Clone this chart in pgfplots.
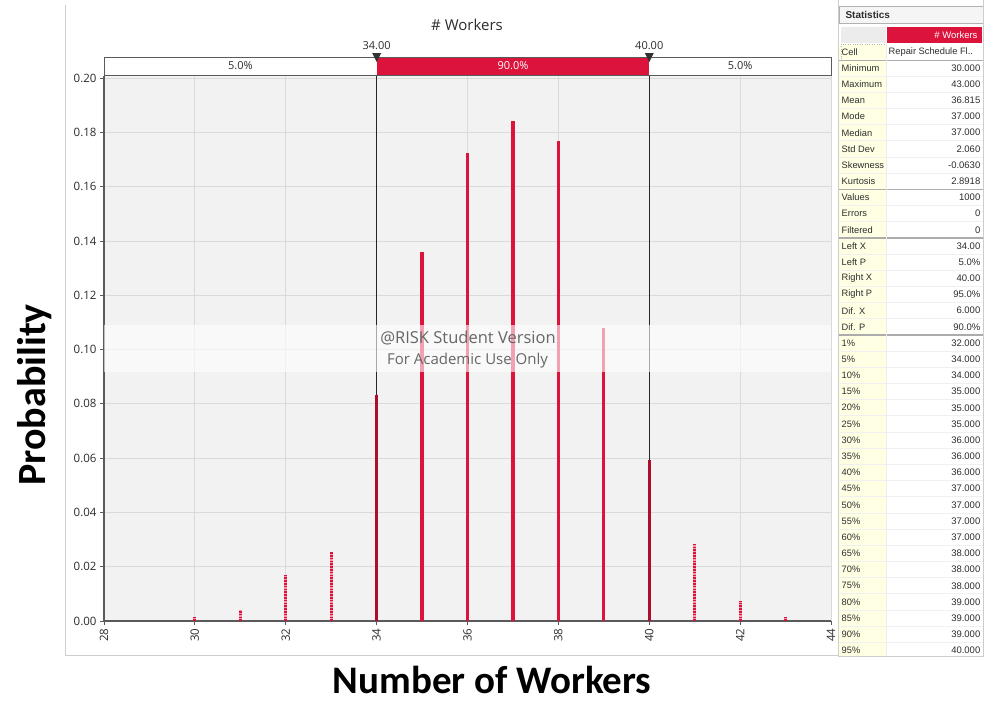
\documentclass[border=0pt]{standalone}
\usepackage{pgfplots}
\pgfplotsset{compat=1.18}
\usepackage{fontspec}
\setmainfont{Open Sans}
\newfontfamily\carlito{Carlito}
\newfontfamily\tabfont{Liberation Sans}
\definecolor{crim}{RGB}{220,20,60}
\definecolor{crimdark}{RGB}{170,15,45}
\definecolor{crimlight}{RGB}{245,150,170}
\definecolor{plotbg}{RGB}{242,242,242}
\definecolor{gridc}{RGB}{218,218,218}
\definecolor{axc}{RGB}{90,90,90}
\definecolor{txt}{RGB}{45,45,45}
\definecolor{paleyel}{RGB}{255,255,228}
\definecolor{framec}{RGB}{205,205,205}
\begin{document}
\begin{tikzpicture}[x=1bp,y=-1bp]
\useasboundingbox (0,0) rectangle (984,703);
\fill[white] (0,0) rectangle (984,703);
\draw[framec, line width=1bp] (65,5) -- (65,655) -- (838,655);
\begin{axis}[
  at={(104bp,-621bp)}, anchor=south west,
  scale only axis, width=727bp, height=545bp,
  xmin=28, xmax=44, ymin=0, ymax=0.2008,
  xtick={28,30,32,34,36,38,40,42,44},
  ytick={0,0.02,0.04,0.06,0.08,0.10,0.12,0.14,0.16,0.18,0.20},
  axis x line*=bottom, axis y line*=left,
  axis line style={axc, line width=1.3bp},
  axis background/.style={fill=plotbg},
  grid=major, major grid style={gridc, line width=0.8bp},
  tick align=outside, major tick length=4bp, tick style={axc, line width=1bp},
  /pgf/number format/assume math mode=true,
  yticklabel style={/pgf/number format/fixed, /pgf/number format/fixed zerofill, /pgf/number format/precision=2, font=\fontsize{11.5bp}{13bp}\selectfont, text=txt},
  xticklabel style={rotate=90, anchor=east, font=\fontsize{11.5bp}{13bp}\selectfont, text=txt},
  clip=false,
]
% delimiter lines (drawn first, bars cover them)
\draw[black!85, line width=0.8bp] (axis cs:34,0) -- ([yshift=19bp]axis cs:34,0.2008);
\draw[black!85, line width=0.8bp] (axis cs:40,0) -- ([yshift=19bp]axis cs:40,0.2008);
% tails (outside 5%-95%)
\addplot[ycomb, no marks, crimlight, line width=3.2bp] coordinates {
 (30,0.0015) (31,0.0041) (32,0.0170) (33,0.0255) (41,0.0285) (42,0.0074) (43,0.0015)};
\addplot[ycomb, no marks, crim, line width=3.2bp, dash pattern=on 1.6bp off 1.2bp] coordinates {
 (30,0.0015) (31,0.0041) (32,0.0170) (33,0.0255) (41,0.0285) (42,0.0074) (43,0.0015)};
% central 90%
\addplot[ycomb, no marks, crim, line width=3.2bp] coordinates {
 (35,0.1358) (36,0.1725) (37,0.1844) (38,0.1767) (39,0.1081)};
% bars on the delimiters
\addplot[ycomb, no marks, crimdark, line width=3.2bp] coordinates {
 (34,0.0833) (40,0.0593)};
% watermark
\fill[white, opacity=0.6] (axis cs:28,0.0917) rectangle (axis cs:44,0.1092);
\node[text=black!60, font=\fontsize{16.5bp}{18bp}\selectfont] at (axis cs:36.01,0.1042) {@RISK Student Version};
\node[text=black!60, font=\fontsize{15bp}{17bp}\selectfont] at (axis cs:36.0,0.0958) {For Academic Use Only};
% delimiter band
\draw[axc, line width=1bp, fill=white] ([yshift=1bp]axis cs:28,0.2008) rectangle ([yshift=19bp]axis cs:44,0.2008);
\fill[crim] ([yshift=1bp]axis cs:34,0.2008) rectangle ([yshift=19bp]axis cs:40,0.2008);
\draw[axc, line width=1bp] ([yshift=1bp]axis cs:28,0.2008) rectangle ([yshift=19bp]axis cs:44,0.2008);
\fill[black!80] ([xshift=-4.5bp,yshift=23bp]axis cs:34,0.2008) -- ([xshift=4.5bp,yshift=23bp]axis cs:34,0.2008) -- ([yshift=14bp]axis cs:34,0.2008) -- cycle;
\fill[black!80] ([xshift=-4.5bp,yshift=23bp]axis cs:40,0.2008) -- ([xshift=4.5bp,yshift=23bp]axis cs:40,0.2008) -- ([yshift=14bp]axis cs:40,0.2008) -- cycle;
\node[text=txt, font=\fontsize{11bp}{13bp}\selectfont] at ([yshift=30bp]axis cs:34,0.2008) {34.00};
\node[text=txt, font=\fontsize{11bp}{13bp}\selectfont] at ([yshift=30bp]axis cs:40,0.2008) {40.00};
\node[text=txt, font=\fontsize{11bp}{13bp}\selectfont] at ([yshift=10bp]axis cs:31,0.2008) {5.0\%};
\node[text=white, font=\fontsize{11bp}{13bp}\selectfont] at ([yshift=10bp]axis cs:37,0.2008) {90.0\%};
\node[text=txt, font=\fontsize{11bp}{13bp}\selectfont] at ([yshift=10bp]axis cs:42,0.2008) {5.0\%};
\end{axis}
% title and axis titles
\node[text=txt, font=\fontsize{15bp}{17bp}\selectfont] at (467,25) {\# Workers};
\node[rotate=90, font=\carlito\bfseries\fontsize{40bp}{48bp}\selectfont] at (35,395) {Probability};
\node[font=\carlito\bfseries\fontsize{39bp}{46bp}\selectfont, inner sep=0pt] at (492,680) {Number of Workers};
% statistics panel
\begin{scope}
\clip (838,0) rectangle (984,656);
\fill[paleyel] (839,44) rectangle (886,656);
\draw[gray!60, fill=gray!8] (839,6) rectangle (983,23);
\node[anchor=west, text=txt, font=\tabfont\bfseries\fontsize{10bp}{12bp}\selectfont] at (842,14.5) {Statistics};
\fill[gray!15] (841,27) rectangle (886,43);
\fill[crim] (887,27) rectangle (982,43);
\node[anchor=east, text=white, font=\tabfont\fontsize{9.5bp}{12bp}\selectfont] at (981,35) {\# Workers};
\draw[gray!60, dotted] (841,44) rectangle (886,60);
\node[anchor=west, text=txt, font=\tabfont\fontsize{9.3bp}{12bp}\selectfont, inner sep=1.5bp] at (840,52) {Cell};
\node[anchor=west, text=txt, font=\tabfont\fontsize{9.3bp}{12bp}\selectfont, inner sep=1.5bp] at (887,52) {Repair Schedule Fl..};
\foreach \lab/\val [count=\k from 0] in {Minimum/30.000, Maximum/43.000, Mean/36.815, Mode/37.000, Median/37.000, Std Dev/2.060, Skewness/-0.0630, Kurtosis/2.8918, Values/1000, Errors/0, Filtered/0, Left X/34.00, Left P/5.0\%, Right X/40.00, Right P/95.0\%, Dif. X/6.000, Dif. P/90.0\%, 1\%/32.000, 5\%/34.000, 10\%/34.000, 15\%/35.000, 20\%/35.000, 25\%/35.000, 30\%/36.000, 35\%/36.000, 40\%/36.000, 45\%/37.000, 50\%/37.000, 55\%/37.000, 60\%/37.000, 65\%/38.000, 70\%/38.000, 75\%/38.000, 80\%/39.000, 85\%/39.000, 90\%/39.000, 95\%/40.000}{
  \pgfmathsetmacro\yy{68+16.18*\k}
  \draw[gray!12, line width=0.6bp] (839,\yy+8) -- (983,\yy+8);
  \node[anchor=west, text=txt, font=\tabfont\fontsize{9.3bp}{12bp}\selectfont, inner sep=1.5bp] at (840,\yy) {\lab};
  \node[anchor=east, text=txt, font=\tabfont\fontsize{9.5bp}{12bp}\selectfont, inner sep=1.5bp] at (982,\yy) {\val};
}
\draw[gray!65, line width=1.5bp] (839,60.5) -- (983,60.5);
\draw[gray!65, line width=1.5bp] (839,189.3) -- (983,189.3);
\draw[gray!65, line width=1.5bp] (839,237.8) -- (983,237.8);
\draw[gray!65, line width=1.5bp] (839,334.9) -- (983,334.9);
\draw[gray!15, line width=0.6bp] (886,44) -- (886,656);
\end{scope}
\draw[framec, line width=1bp] (838.5,0) -- (838.5,656);
\draw[framec, line width=1bp] (983.5,0) -- (983.5,656);
\draw[framec, line width=1bp] (838,656) -- (984,656);
\end{tikzpicture}
\end{document}
